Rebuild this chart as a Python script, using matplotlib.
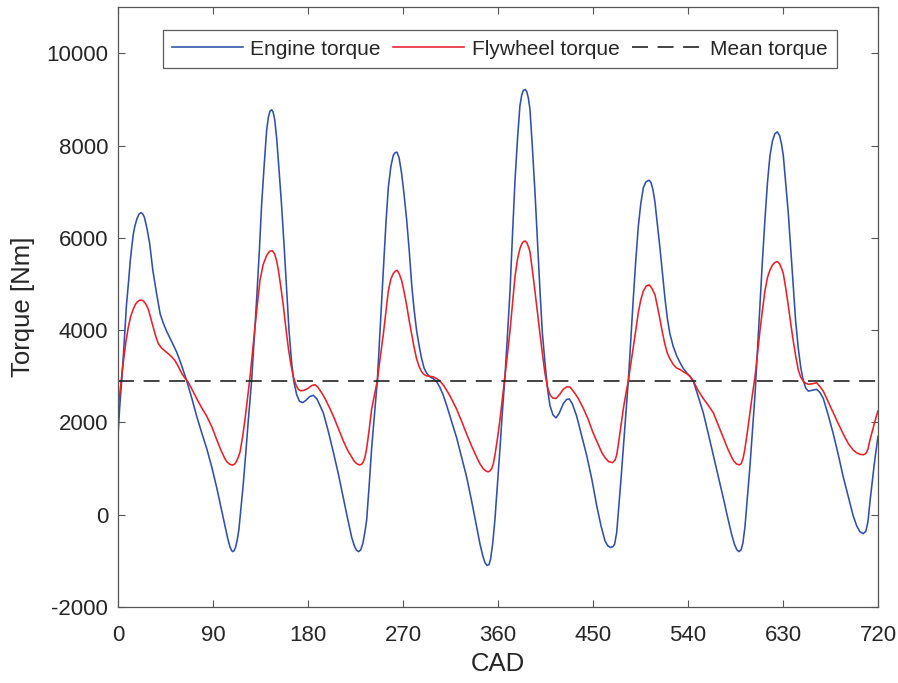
import matplotlib
matplotlib.use("Agg")
import matplotlib.pyplot as plt
import numpy as np

plt.rcParams['font.family'] = ['Liberation Sans', 'DejaVu Sans']
plt.rcParams['axes.unicode_minus'] = False

# (crank angle [deg], torque [Nm]) samples of the engine torque
engine_pts = [
    (0, 1710), (1.5, 2300), (3.5, 2910), (5.5, 3600), (8, 4540), (10, 5050), (11.5, 5470),
    (13, 5800), (14.5, 6080), (16, 6260), (18, 6420), (20, 6520), (21.8, 6550), (23.5, 6520),
    (25, 6450), (27.5, 6200), (30, 5880), (33, 5300), (36.5, 4800), (40, 4350), (43, 4150),
    (46, 3980), (49, 3840), (52, 3700), (55.5, 3530), (58, 3380), (60.5, 3220), (63, 3050),
    (65, 2910), (70, 2520), (74.5, 2140), (79, 1800), (84, 1440), (89, 1020), (93.5, 590),
    (97.5, 170), (101.5, -260), (104, -520), (106, -690), (107.5, -770), (108.6, -800),
    (110, -780), (111.5, -700), (113, -540), (114.5, -330), (116.5, 150), (118.7, 670),
    (121, 1320), (123.5, 2060), (126.6, 2910), (129, 3800), (131.4, 4690), (134, 5760),
    (136, 6700), (138.5, 7580), (140.8, 8330), (142.5, 8620), (144, 8750), (145.6, 8780),
    (147, 8730), (148.5, 8560), (150.3, 8170), (152.5, 7500), (155, 6700), (157.5, 5780),
    (159.8, 4850), (162, 4000), (164.5, 3300), (166.5, 2900), (169.3, 2600), (172, 2460),
    (174.9, 2430), (178, 2480), (181.5, 2560), (185, 2590), (188.5, 2510), (194.5, 2210),
    (199, 1830), (204, 1360), (209, 860), (213.5, 360), (217.5, -80), (221.4, -490),
    (224, -680), (226, -770), (228, -800), (230, -760), (232, -620), (234, -360),
    (235.6, -110), (238, 650), (240.3, 1440), (243, 2180), (245.7, 2910), (248.5, 4100),
    (251.4, 5310), (254, 6380), (256.1, 7090), (258.5, 7550), (260.8, 7790), (262.5, 7850),
    (264.3, 7860), (266.3, 7740), (268.7, 7400), (271, 6950), (273.5, 6390), (276, 5700),
    (278.2, 5000), (280.5, 4450), (282.9, 3990), (285.5, 3640), (287.7, 3380), (290, 3180),
    (292.4, 3070), (295.5, 2990), (298.7, 2950), (302, 2880), (305, 2760), (308, 2600),
    (311.4, 2370), (316, 2030), (320.8, 1670), (325.5, 1250), (330.3, 820), (335, 300),
    (339.8, -260), (343, -640), (345.5, -880), (347.5, -1030), (349.6, -1100), (351.5, -1080),
    (353, -960), (355, -620), (357.1, -110), (359.5, 650), (361.9, 1440), (364, 2180),
    (366.6, 2990), (369, 3900), (371.4, 4850), (373.8, 6100), (376.1, 7240), (378.5, 8150),
    (380.8, 8870), (382.5, 9100), (384, 9200), (385.8, 9220), (387.3, 9170), (388.8, 9030),
    (390.3, 8790), (392.5, 8000), (395, 7010), (397.5, 5900), (399.8, 4850), (402, 3950),
    (404.5, 3300), (407, 2720), (409.2, 2370), (412, 2170), (414.9, 2100), (418, 2200),
    (421.9, 2410), (425, 2500), (427.6, 2510), (430.5, 2400), (434.5, 2140), (439, 1740),
    (444, 1290), (449, 760), (453.5, 200), (457.5, -230), (461.4, -570), (464, -670),
    (466.5, -710), (469, -690), (470.5, -640), (472.5, -380), (474, 50), (476.3, 700),
    (478.7, 1440), (481, 2150), (483.5, 2910), (485.8, 3800), (488.2, 4690), (490.5, 5500),
    (492.9, 6240), (495.2, 6730), (497.7, 7090), (500, 7210), (501.7, 7240), (503.3, 7250),
    (505, 7200), (506.8, 7050), (508.7, 6780), (511, 6300), (513.5, 5770), (516, 5200),
    (518.2, 4690), (520.5, 4250), (522.9, 3920), (526, 3650), (529.2, 3450), (532.4, 3300),
    (535.6, 3170), (538.7, 3080), (541.9, 3000), (545, 2900), (549.5, 2580), (554.5, 2210),
    (559, 1780), (564, 1290), (569, 800), (573.5, 360), (577.5, -50), (581.3, -420),
    (584, -640), (586.3, -760), (588.3, -800), (590.3, -760), (592, -620), (594, -260),
    (596.3, 380), (598.7, 1050), (601, 1800), (603.5, 2600), (605.8, 3550), (608.2, 4540),
    (610.5, 5500), (612.9, 6390), (615.3, 7200), (617.7, 7790), (620, 8100), (622.3, 8260),
    (624.6, 8300), (626.8, 8220), (628.5, 8050), (630.3, 7790), (632.5, 7200), (635, 6550),
    (637.5, 5700), (639.8, 4920), (642, 4200), (644.5, 3610), (646.8, 3200), (649.2, 2910),
    (651.5, 2750), (654, 2680), (658, 2700), (661.9, 2720), (665, 2650), (668.2, 2520),
    (673, 2150), (677.7, 1750), (682.5, 1290), (687.1, 820), (692, 380), (696.6, -30),
    (700, -250), (703, -370), (706, -410), (708.5, -360), (710.5, -150), (712.4, 280),
    (714.5, 700), (716.5, 1100), (718.5, 1450), (720, 1700),
]

# (crank angle [deg], torque [Nm]) samples of the torque after the flywheel
flywheel_pts = [
    (0, 2250), (2.5, 2800), (5, 3300), (7.5, 3750), (9.8, 4070), (12, 4300), (14.5, 4460),
    (16.5, 4560), (18.5, 4620), (20.5, 4650), (22.4, 4655), (24.2, 4630), (26, 4580),
    (28.7, 4460), (31.5, 4220), (35.1, 3920), (38, 3720), (41.4, 3610), (44.5, 3550),
    (47.7, 3490), (51, 3420), (54, 3340), (57, 3220), (60.3, 3070), (63.5, 2960),
    (66.6, 2870), (70.5, 2700), (74.5, 2520), (79, 2330), (84, 2140), (89, 1900),
    (93.5, 1630), (97.5, 1400), (101.4, 1210), (103.5, 1140), (105.5, 1100), (107.5, 1080),
    (109.3, 1080), (111, 1110), (112.5, 1170), (114, 1250), (115.6, 1360), (118, 1680),
    (120.3, 2060), (122.7, 2520), (125.1, 2990), (127.5, 3550), (129.8, 4070), (132.2, 4600),
    (134.5, 5080), (137.5, 5420), (140.8, 5620), (143.5, 5710), (146.2, 5725), (148.5, 5650),
    (150.3, 5500), (151.9, 5310), (154.2, 4950), (156.6, 4540), (159, 4060), (161.4, 3610),
    (163.8, 3260), (166.1, 2990), (168.5, 2820), (170.8, 2720), (172.9, 2690), (174.9, 2690),
    (177.5, 2710), (180, 2740), (183.5, 2800), (186.6, 2820), (189.5, 2760), (192.8, 2650),
    (196.1, 2520), (200, 2340), (204, 2140), (208.8, 1870), (213.5, 1600), (217.5, 1400),
    (221.4, 1250), (223.5, 1170), (225.5, 1120), (227.5, 1090), (229.2, 1080), (231, 1100),
    (232.5, 1150), (234, 1250), (235.6, 1440), (238, 1850), (240.3, 2290), (243, 2600),
    (245.7, 2910), (248.5, 3420), (251.4, 3920), (253.8, 4400), (256.1, 4850), (258.5, 5110),
    (260.8, 5230), (262.7, 5280), (264.5, 5300), (266.5, 5220), (268.7, 5080), (271, 4840),
    (273.5, 4540), (275.8, 4220), (278.2, 3920), (280.5, 3630), (282.9, 3380), (285.3, 3210),
    (287.7, 3100), (290, 3040), (292.4, 3010), (295.5, 3000), (298.7, 2990), (302, 2950),
    (305, 2900), (308.9, 2790), (312.9, 2640), (316.9, 2470), (320.8, 2290), (325.5, 2030),
    (330.3, 1750), (335, 1490), (339.8, 1250), (343, 1100), (346, 1000), (348.5, 950),
    (350.6, 930), (352.4, 950), (354, 1000), (355.5, 1100), (357.1, 1290), (359.5, 1650),
    (361.9, 2060), (364.2, 2520), (366.6, 2990), (369, 3490), (371.4, 3990), (373.8, 4600),
    (376.1, 5160), (378.5, 5540), (380.8, 5770), (382.5, 5870), (384, 5920), (385.8, 5935),
    (387.5, 5890), (389, 5800), (390.3, 5700), (392.6, 5300), (395, 4850), (397.4, 4380),
    (399.8, 3920), (402.2, 3470), (404.5, 3070), (406.8, 2780), (409.2, 2600), (412, 2530),
    (414.9, 2520), (418.5, 2610), (421.9, 2720), (425, 2770), (428.2, 2770), (432, 2660),
    (436.1, 2520), (441, 2300), (445.6, 2060), (450, 1780), (455, 1520), (458.5, 1340),
    (462, 1220), (465, 1150), (468.5, 1130), (471, 1190), (472.5, 1300), (474, 1520),
    (476.3, 1900), (478.7, 2290), (481, 2600), (483.5, 2910), (485.8, 3260), (488.2, 3610),
    (490.5, 3990), (492.9, 4380), (495.3, 4660), (497.7, 4850), (500.5, 4960), (503.3, 4985),
    (506, 4900), (508.7, 4770), (511, 4520), (513.5, 4230), (515.8, 3950), (518.2, 3690),
    (520.5, 3500), (522.9, 3380), (526, 3260), (529.2, 3180), (532.4, 3150), (535.6, 3100),
    (538.7, 3060), (541.9, 3000), (545, 2900), (549.5, 2700), (554.5, 2520), (559, 2380),
    (564, 2210), (568.8, 1940), (573.5, 1670), (577.5, 1440), (581.3, 1250), (583.5, 1160),
    (586, 1100), (588.6, 1080), (590.5, 1110), (592.3, 1230), (594, 1440), (596.3, 1800),
    (598.7, 2210), (601, 2600), (603.5, 2990), (605.8, 3480), (608.2, 3990), (610.5, 4430),
    (612.9, 4850), (615.3, 5140), (617.7, 5310), (620, 5410), (622.3, 5470), (624.7, 5490),
    (626.8, 5440), (628.5, 5350), (630.3, 5230), (632.7, 4900), (635, 4540), (637.4, 4140),
    (639.8, 3760), (642.2, 3420), (644.5, 3140), (646.8, 2980), (649.2, 2900), (651.5, 2850),
    (654, 2830), (658, 2840), (661.9, 2860), (665, 2780), (668.2, 2680), (673, 2440),
    (677.7, 2210), (682.5, 1970), (687.1, 1750), (692, 1540), (696.6, 1400), (700, 1340),
    (703, 1310), (706.3, 1300), (708.5, 1330), (710.5, 1420), (712.4, 1620), (714.5, 1800),
    (716.5, 1980), (718.5, 2140), (720, 2250),
]

mean_torque = 2910

engine_cad, engine_torque = zip(*engine_pts)
flywheel_cad, flywheel_torque = zip(*flywheel_pts)

fig = plt.figure(figsize=(8.98, 6.83), dpi=100)
ax = fig.add_axes([0.1314, 0.1113, 0.8463, 0.8779])

ax.plot(engine_cad, engine_torque, color='#3050a8', linewidth=1.15, label='Engine torque')
ax.plot(flywheel_cad, flywheel_torque, color='#e8202a', linewidth=1.15, label='Flywheel torque')
ax.plot([0, 720], [mean_torque, mean_torque], color='#1a1a1a', linewidth=1.15,
        linestyle=(0, (10, 6)), label='Mean torque')

ax.set_xlim(0, 720)
ax.set_ylim(-2000, 11000)
ax.set_xticks(np.arange(0, 721, 90))
ax.set_yticks(np.arange(-2000, 10001, 2000))

gray = '#262626'
for sp in ax.spines.values():
    sp.set_color('#555555')
    sp.set_linewidth(0.9)
ax.tick_params(direction='in', length=5, width=0.8, color='#555555', labelcolor=gray,
               labelsize=16, top=True, right=True)
ax.tick_params(axis='x', pad=13)
ax.tick_params(axis='y', pad=7)
ax.set_xlabel('CAD', fontsize=18.5, color=gray, labelpad=4)
ax.set_ylabel('Torque [Nm]', fontsize=18.5, color=gray, labelpad=8)

leg = ax.legend(loc='upper center', bbox_to_anchor=(0.5026, 0.962), ncol=3, fontsize=15,
                frameon=True, fancybox=False, edgecolor='#333333', handlelength=3.4,
                handletextpad=0.35, columnspacing=0.6, borderpad=0.45, borderaxespad=0)
leg.get_frame().set_linewidth(0.9)
for t in leg.get_texts():
    t.set_color(gray)

fig.savefig('out.png', dpi=100)
